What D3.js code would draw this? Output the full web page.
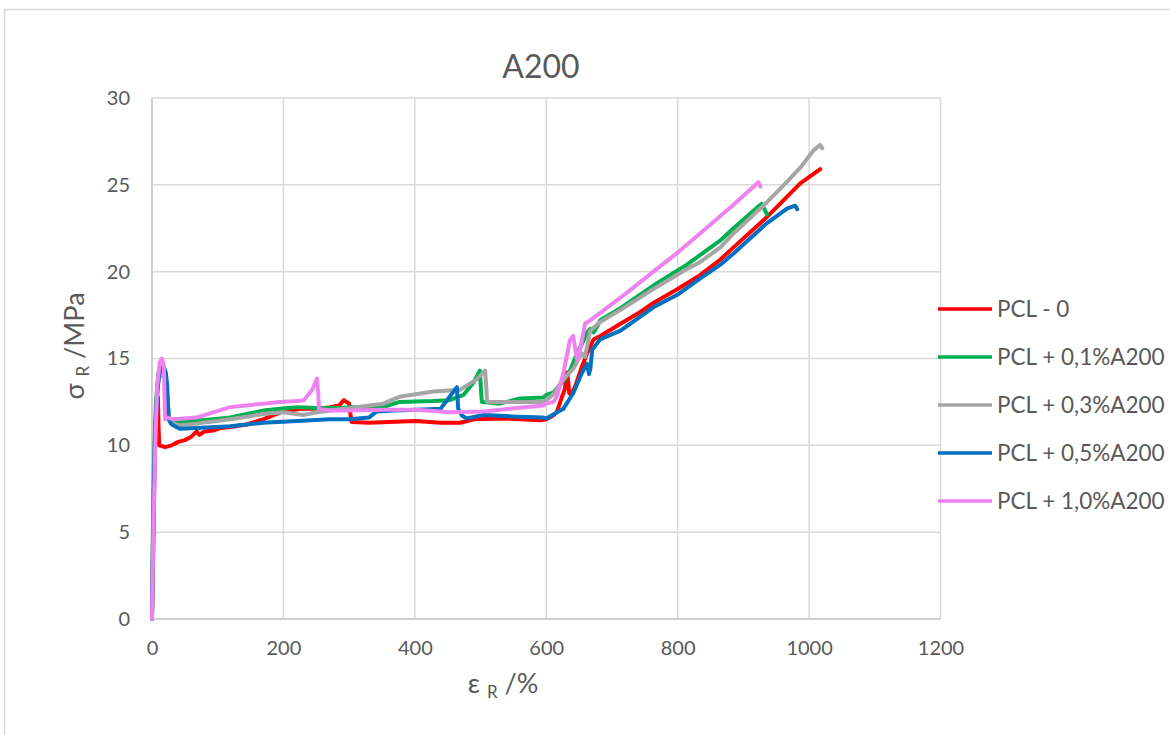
<!DOCTYPE html>
<html>
<head>
<meta charset="utf-8">
<script src="https://cdn.jsdelivr.net/npm/d3@7"></script>
<style>
  html, body { margin: 0; padding: 0; background: #fff; }
  svg { display: block; font-family: Lato, "Open Sans", sans-serif; }
</style>
</head>
<body>
<svg id="chart" width="1170" height="735"></svg>
<script>
// ---- data ----
const chartTitle = "A200";
const seriesNames = ["PCL - 0", "PCL + 0,1%A200", "PCL + 0,3%A200", "PCL + 0,5%A200", "PCL + 1,0%A200"];
const seriesColors = ["#FF0000", "#00B050", "#A5A5A5", "#0070C0", "#EE82EE"];
const xTicks = [0, 200, 400, 600, 800, 1000, 1200];
const yTicks = [0, 5, 10, 15, 20, 25, 30];

const pcl0 = [[0,0],[2,4],[4,9],[6,11.5],[8,12.6],[9,12.8],[10,11],[11,10.0],[20,9.9],[30,10.0],[40,10.2],[50,10.3],[60,10.5],[68,10.8],[72,10.6],[80,10.8],[93,10.85],[105,11.0],[119,11.05],[144,11.2],[169,11.5],[195,11.9],[226,12.1],[250,12.1],[271,12.2],[285,12.3],[292,12.6],[296,12.5],[300,12.4],[302,11.8],[304,11.35],[330,11.3],[360,11.35],[400,11.4],[440,11.3],[469,11.3],[490,11.5],[530,11.55],[560,11.5],[591,11.45],[600,11.5],[610,11.7],[616,11.9],[624,12.8],[628,13.2],[632,14.2],[635,13.0],[638,12.9],[644,13.4],[654,14.5],[662,15.3],[672,16.1],[682,16.3],[700,16.7],[713,17.0],[740,17.6],[763,18.2],[800,19.0],[834,19.8],[865,20.7],[885,21.4],[936,23.15],[987,25.1],[1017,25.9]];
const pcl01 = [[0,0],[1,4],[3,9],[6,12.5],[10,14.2],[15,14.5],[20,14.2],[23,13],[26,11.6],[32,11.3],[60,11.4],[93,11.5],[119,11.6],[169,12.0],[195,12.1],[221,12.2],[250,12.15],[287,12.15],[302,12.2],[352,12.2],[377,12.5],[428,12.55],[453,12.6],[474,12.9],[489,13.6],[499,14.3],[501,13.0],[502,12.5],[529,12.4],[560,12.7],[595,12.75],[600,12.9],[611,13.05],[626,13.7],[636,14.3],[647,15.3],[657,16.05],[662,16.5],[667,16.7],[672,16.5],[677,16.8],[682,17.2],[713,17.9],[763,19.2],[814,20.4],[834,20.95],[865,21.8],[885,22.5],[921,23.7],[928,23.9],[932,23.6],[936,23.3]];
const pcl03 = [[0,0],[1,4],[3,9],[6,12],[10,13.8],[15,14.2],[20,13.8],[24,12],[28,11.3],[42,11.15],[68,11.25],[119,11.5],[169,11.8],[200,11.9],[230,11.75],[251,11.9],[302,12.15],[352,12.4],[377,12.8],[428,13.1],[469,13.2],[494,13.8],[507,14.3],[509,13.2],[510,12.5],[555,12.5],[595,12.5],[600,12.6],[611,12.95],[626,13.8],[641,14.4],[654,15.3],[659,15.1],[667,16.6],[682,17.1],[713,17.8],[763,19.0],[814,20.15],[834,20.55],[865,21.4],[885,22.2],[936,24.0],[967,25.2],[987,26.0],[1007,27.0],[1017,27.3],[1020,27.1]];
const pcl05 = [[0,0],[1,3],[3,8],[5,11],[8,13],[11,14.1],[15,14.5],[18,14.5],[21,14.2],[23,13.5],[25,11.5],[30,11.2],[42,10.95],[68,11.0],[119,11.1],[169,11.3],[221,11.4],[271,11.5],[301,11.5],[330,11.6],[342,11.95],[370,12.0],[403,12.05],[439,12.1],[453,12.8],[464,13.35],[466,12.1],[472,11.7],[479,11.55],[505,11.75],[555,11.65],[595,11.6],[600,11.55],[626,12.1],[641,13.0],[654,14.15],[662,14.7],[665,14.1],[667,14.4],[670,15.5],[682,16.1],[713,16.6],[763,17.95],[801,18.7],[834,19.6],[865,20.4],[885,21.05],[936,22.8],[967,23.65],[979,23.8],[982,23.6]];
const pcl10 = [[0,0],[2,5],[5,10],[8,13.5],[12,14.8],[15,15.0],[18,14.6],[19,13],[20,11.5],[24,11.6],[32,11.5],[68,11.6],[93,11.9],[119,12.2],[169,12.4],[195,12.5],[221,12.55],[231,12.6],[244,13.2],[251,13.85],[253,13],[254,12.1],[271,12.0],[300,12.0],[350,12.05],[403,12.05],[453,11.9],[505,11.95],[555,12.15],[595,12.3],[600,12.4],[611,12.5],[616,12.8],[626,14.15],[636,16.05],[641,16.3],[647,14.9],[652,15.6],[659,17.0],[667,17.2],[713,18.5],[763,20.0],[800,21.1],[834,22.2],[885,23.85],[923,25.15],[926,24.9]];

const seriesData = [pcl0, pcl01, pcl03, pcl05, pcl10];

// ---- layout ----
const svg = d3.select("#chart");
const plot = { left: 152, right: 940.5, top: 98, bottom: 619 };
const x = d3.scaleLinear().domain([0, 1200]).range([plot.left, plot.right]);
const y = d3.scaleLinear().domain([0, 30]).range([plot.bottom, plot.top]);
const textColor = "#595959";
const gridColor = "#d9d9d9";

// outer chart border
svg.append("rect").attr("x", 4.5).attr("y", 9.5).attr("width", 1180).attr("height", 740)
  .attr("fill", "none").attr("stroke", gridColor).attr("stroke-width", 1.5);

// gridlines
const grid = svg.append("g");
grid.selectAll(".hg").data(yTicks).enter().append("line")
  .attr("x1", plot.left).attr("x2", plot.right)
  .attr("y1", d => y(d)).attr("y2", d => y(d))
  .attr("stroke", gridColor).attr("stroke-width", 1.5);
grid.selectAll(".vg").data(xTicks).enter().append("line")
  .attr("y1", plot.top).attr("y2", plot.bottom)
  .attr("x1", d => x(d)).attr("x2", d => x(d))
  .attr("stroke", gridColor).attr("stroke-width", 1.5);

// axes lines
svg.append("line").attr("x1", plot.left).attr("x2", plot.left).attr("y1", plot.top).attr("y2", plot.bottom)
  .attr("stroke", "#c8c8c8").attr("stroke-width", 1.5);
svg.append("line").attr("x1", plot.left).attr("x2", plot.right).attr("y1", plot.bottom).attr("y2", plot.bottom)
  .attr("stroke", "#c8c8c8").attr("stroke-width", 1.5);

// axes labels via d3 axes
const yAxis = d3.axisLeft(y).tickValues(yTicks).tickSize(0).tickPadding(22).tickFormat(d3.format("d"));
const gy = svg.append("g").attr("transform", `translate(${plot.left},0)`).call(yAxis);
gy.select(".domain").remove();
gy.selectAll("text").attr("font-size", 20).attr("fill", textColor).attr("font-family", "Lato");

const xAxis = d3.axisBottom(x).tickValues(xTicks).tickSize(0).tickPadding(22).tickFormat(d3.format("d"));
const gx = svg.append("g").attr("transform", `translate(0,${plot.bottom})`).call(xAxis);
gx.select(".domain").remove();
gx.selectAll("text").attr("font-size", 20).attr("fill", textColor).attr("font-family", "Lato");

// series lines
const line = d3.line().x(d => x(d[0])).y(d => y(d[1])).curve(d3.curveLinear);
seriesData.forEach((s, i) => {
  svg.append("path").datum(s).attr("d", line)
    .attr("fill", "none").attr("stroke", seriesColors[i]).attr("stroke-width", 4)
    .attr("stroke-linejoin", "round").attr("stroke-linecap", "round");
});

// title
svg.append("text").attr("x", 541).attr("y", 78).attr("text-anchor", "middle")
  .attr("font-size", 32).attr("fill", textColor).text(chartTitle);

// axis titles
const xt = svg.append("text").attr("x", 503).attr("y", 693).attr("text-anchor", "middle")
  .attr("font-size", 27).attr("fill", textColor);
xt.append("tspan").text("ε ");
xt.append("tspan").attr("font-size", 17).attr("dy", 5).text("R");
xt.append("tspan").attr("dy", -5).text(" /%");

const yt = svg.append("text").attr("transform", "translate(84,346) rotate(-90)").attr("text-anchor", "middle")
  .attr("font-size", 27).attr("fill", textColor);
yt.append("tspan").text("σ ");
yt.append("tspan").attr("font-size", 17).attr("dy", 5).text("R");
yt.append("tspan").attr("dy", -5).text(" /MPa");

// legend
const legendY0 = 309, legendStep = 48;
const lg = svg.append("g");
seriesNames.forEach((n, i) => {
  const ly = legendY0 + i * legendStep;
  lg.append("line").attr("x1", 938).attr("x2", 992).attr("y1", ly).attr("y2", ly)
    .attr("stroke", seriesColors[i]).attr("stroke-width", 3.5);
  lg.append("text").attr("x", 997).attr("y", ly).attr("dy", "0.35em")
    .attr("font-size", 22.5).attr("fill", textColor).text(n);
});
</script>
</body>
</html>
